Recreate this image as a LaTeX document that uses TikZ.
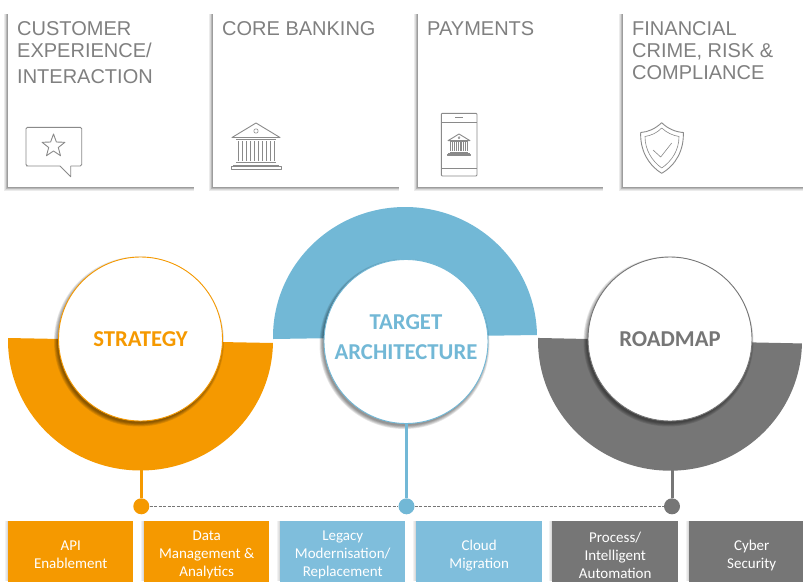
\documentclass[tikz,border=0pt]{standalone}
\usepackage{fontspec}
\setmainfont{Liberation Sans}
\newfontfamily\calib{Carlito}
\definecolor{cOrange}{HTML}{F59900}
\definecolor{cBlue}{HTML}{72B8D6}
\definecolor{cBoxBlue}{HTML}{7FBEDC}
\definecolor{cGray}{HTML}{767676}
\definecolor{cText}{HTML}{808080}
\definecolor{cIcon}{HTML}{8A8A8A}
\tikzset{
  card/.style={fill=white,draw=none,inner sep=0pt,anchor=north west},
  cardtext/.style={anchor=north west,inner sep=0pt,align=left,text=cText,font=\fontsize{20}{22}\selectfont},
  hub/.style={circle,draw=#1,line width=.9pt,fill=white,minimum size=164pt,inner sep=0pt,text=#1,align=center,font=\calib\bfseries\fontsize{22.7}{30}\selectfont},
  hublabel/.style={inner sep=0pt,text=#1,align=center,font=\calib\bfseries\fontsize{22.7}{30}\selectfont},
  pin/.style={circle,fill=#1,minimum size=16pt,inner sep=0pt},
  stem/.style={draw=#1,line width=3pt},
  tile/.style={fill=#1,anchor=north west,inner sep=0pt,minimum height=68pt,text=white,align=center,font=\calib\fontsize{15}{18}\selectfont},
  icon/.style={draw=cIcon,line width=.9pt,line join=round},
  iconthin/.style={draw=cIcon,line width=.6pt,line join=round},
}
\newcommand{\softrect}[4]{%
  \foreach \d in {3.6,3,2.4,1.8,1.2,.6}{
    \fill[black,opacity=.08] ({#1-\d},{#2+1}) rectangle ({#3-1},{#4+\d});
  }}
\newcommand{\softtile}[3]{%
  \foreach \d in {3,2,1}{
    \fill[black,opacity=.05] ({#1-\d},#2) rectangle (#3,581);
  }}
\newcommand{\softdisc}[2]{%
  \foreach \r in {85,84.2,83.4,82.6,81.8}{
    \fill[black,opacity=.10] ({#1-1.5},{#2+2.5}) circle[radius=\r pt];
  }}
\newcommand{\bankicon}[3]{% cx, top, scale
  \begin{scope}[shift={(#1,#2)},x=#3pt,y=-#3pt]
    \draw[icon] (-24,14.5) -- (0,0) -- (24,14.5) -- cycle;
    \draw[iconthin] (0,8) circle[radius=2.2*#3 pt];
    \draw[iconthin] (-20,16.5) -- (20,16.5);
    \foreach \u in {-18,-10,-2,6,14}{
      \draw[iconthin] (\u,18) -- (\u,38);
      \draw[iconthin] ({\u+4},18) -- ({\u+4},38);
    }
    \draw[iconthin] (-20,39) -- (20,39);
    \draw[iconthin] (-23,42) -- (23,42);
    \draw[icon] (-25,43.5) rectangle (25,46);
  \end{scope}}
\begin{document}
\begin{tikzpicture}[x=1pt,y=-1pt]
\useasboundingbox (0,0) rectangle (803,581);
% cards
\softrect{8}{13}{195}{187}
\softrect{213}{13}{400}{187}
\softrect{418}{13}{604}{187}
\softrect{623}{13}{806}{187}
\node[card,minimum width=187pt,minimum height=174pt] (card1) at (8,13) {};
\node[card,minimum width=187pt,minimum height=174pt] (card2) at (213,13) {};
\node[card,minimum width=186pt,minimum height=174pt] (card3) at (418,13) {};
\node[card,minimum width=180pt,minimum height=174pt] (card4) at (623,13) {};
\node[cardtext] (t1) at (17,21.5) {CUSTOMER\\EXPERIENCE/\\[4pt]INTERACTION};
\node[cardtext] (t2) at (222,21.5) {CORE BANKING};
\node[cardtext] (t3) at (427,21.5) {PAYMENTS};
\node[cardtext] (t4) at (632,21.5) {FINANCIAL\\CRIME, RISK \&\\COMPLIANCE};
% speech bubble icon
\draw[icon,rounded corners=1.5pt] (60,166) -- (28,166) -- (26,166) -- (26,127.3) -- (81.7,127.3) -- (81.7,166) -- (70.7,166);
\draw[icon] (60,166) -- (70.7,176.7) -- (70.7,166);
\draw[icon] (53.5,134) -- (56.4,142) -- (64.9,142.3) -- (58.3,147.5) -- (60.5,155.7) -- (53.5,151) -- (46.5,155.7) -- (48.7,147.5) -- (42.1,142.3) -- (50.6,142) -- cycle;
% bank icon
\bankicon{256}{123}{1}
% phone icon
\draw[icon,rounded corners=1pt] (441.3,113.3) rectangle (477,176);
\draw[iconthin] (441.3,122.5) -- (477,122.5);
\draw[iconthin] (441.3,168) -- (477,168);
\draw[icon] (455,117.7) -- (463,117.7);
\bankicon{459}{134}{.46}
% shield icon
\draw[icon] (661.7,122.7) .. controls (668,129) and (676,132) .. (683.3,132.5) .. controls (684,150) and (676,165) .. (661.7,173.3) .. controls (648,165) and (640,150) .. (640.7,132.5) .. controls (648,132) and (655,129) .. (661.7,122.7) -- cycle;
\draw[iconthin] (661.7,128) .. controls (667,133) and (673,135.5) .. (679,136.5) .. controls (679,150) and (672,161) .. (661.7,168) .. controls (652,161) and (645,150) .. (645,136.5) .. controls (651,135.5) and (657,133) .. (661.7,128) -- cycle;
\draw[iconthin] (653,150) -- (660.7,157) -- (671.7,143);
% half rings
\fill[cOrange,rotate around={-1.08:(140.5,340.5)}] (8,340.5) arc[start angle=180,end angle=360,x radius=132.5pt,y radius=130pt] -- cycle;
\fill[cBlue,rotate around={.87:(405,337)}] (273,337) arc[start angle=180,end angle=0,x radius=132pt,y radius=130pt] -- cycle;
\fill[cGray,rotate around={-1.19:(670,340.7)}] (538,340.7) arc[start angle=180,end angle=360,x radius=132pt,y radius=130pt] -- cycle;
% hubs
\softdisc{140.5}{339}
\softdisc{406}{341.5}
\softdisc{670}{339}
\node[hub=cOrange] (c1) at (140.5,339) {STRATEGY};
\node[hub=cBlue] (c2) at (406,341.5) {};
\node[hublabel=cBlue] (l2) at (406,337.5) {TARGET\\ARCHITECTURE};
\node[hub=cGray] (c3) at (670,339) {ROADMAP};
% connectors
\node[pin=cOrange] (d1) at (141.3,506.3) {};
\node[pin=cBlue] (d2) at (406.5,506.3) {};
\node[pin=cGray] (d3) at (672,506.3) {};
\coordinate (o1) at (141.3,469);
\coordinate (o3) at (672,469);
\draw[stem=cOrange] (o1) -- (d1);
\draw[stem=cBlue] (c2.south -| d2) -- (d2);
\draw[stem=cGray] (o3) -- (d3);
\draw[cGray,line width=.7pt,dash pattern=on 3pt off 1.5pt] (d1) -- (d2);
\draw[cGray,line width=.7pt,dash pattern=on 3pt off 1.5pt] (d2) -- (d3);
% tiles
\softtile{8}{521}{133}
\softtile{144}{521}{269}
\softtile{280}{521}{405}
\softtile{416}{521}{542}
\softtile{552}{521}{678}
\softtile{689}{521}{803}
\begin{scope}
\clip (0,0) rectangle (803,581);
\node[tile=cOrange,minimum width=125pt] (b1) at (8,521) {API\\Enablement};
\node[tile=cOrange,minimum width=125pt] (b2) at (144,521) {Data\\Management \&\\Analytics};
\node[tile=cBoxBlue,minimum width=125pt] (b3) at (280,521) {Legacy\\Modernisation/\\Replacement};
\node[tile=cBoxBlue,minimum width=126pt] (b4) at (416,521) {Cloud\\Migration};
\node[tile=cGray,minimum width=126pt] (b5) at (552,521) {Process/\\Intelligent\\Automation};
\node[tile=cGray,minimum width=125pt] (b6) at (689,521) {Cyber\\Security};
\end{scope}
\end{tikzpicture}
\end{document}
